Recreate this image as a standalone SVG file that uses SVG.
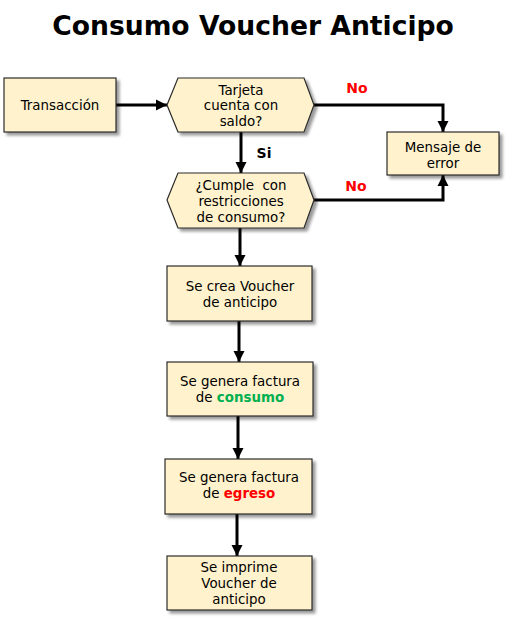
<svg xmlns="http://www.w3.org/2000/svg" width="509" height="624" viewBox="0 0 509 624">
<style>
.box{fill:#FFF2CC;stroke:#2b2b2b;stroke-width:1.2}
.t{font-family:"DejaVu Sans",Verdana,sans-serif;font-size:13.4px;fill:#000;text-anchor:middle}
.c{fill:none;stroke:#000;stroke-width:3}
.lbl{font-family:"DejaVu Sans",Verdana,sans-serif;font-size:14px;font-weight:bold;text-anchor:middle}
</style>
<defs>
<filter id="sh" x="-10%" y="-10%" width="130%" height="140%">
<feGaussianBlur in="SourceAlpha" stdDeviation="1.5"/>
<feOffset dx="3" dy="3" result="b"/>
<feComponentTransfer><feFuncA type="linear" slope="0.4"/></feComponentTransfer>
<feMerge><feMergeNode/><feMergeNode in="SourceGraphic"/></feMerge>
</filter>
<marker id="ah" viewBox="0 0 10 10" refX="10" refY="5" markerWidth="3.8" markerHeight="3.8" orient="auto" markerUnits="strokeWidth">
<path d="M0,0 L10,5 L0,10 Z" fill="#000"/>
</marker>
</defs>
<rect width="509" height="624" fill="#fff"/>
<text x="253" y="35" font-family="DejaVu Sans,Verdana,sans-serif" font-size="26.6" font-weight="bold" text-anchor="middle">Consumo Voucher Anticipo</text>

<g id="connectors">
<line class="c" x1="116" y1="105" x2="167" y2="105" marker-end="url(#ah)"/>
<line class="c" x1="241" y1="132" x2="241" y2="173" marker-end="url(#ah)"/>
<polyline class="c" points="314,105 443,105 443,132" marker-end="url(#ah)"/>
<polyline class="c" points="314,200 443,200 443,175" marker-end="url(#ah)"/>
<line class="c" x1="240" y1="228" x2="240" y2="266" marker-end="url(#ah)"/>
<line class="c" x1="239" y1="321" x2="239" y2="362" marker-end="url(#ah)"/>
<line class="c" x1="238" y1="416" x2="238" y2="459" marker-end="url(#ah)"/>
<line class="c" x1="237" y1="514" x2="237" y2="556" marker-end="url(#ah)"/>
<text class="lbl" x="264" y="158" fill="#000">Si</text>
<text class="lbl" x="357" y="93" fill="#FF0000">No</text>
<text class="lbl" x="356" y="191" fill="#FF0000">No</text>
</g>

<g id="transaccion">
<rect class="box" x="4" y="78" width="112" height="54" filter="url(#sh)"/>
<text class="t" x="60" y="110">Transacción</text>
</g>

<g id="tarjeta">
<polygon class="box" points="167,105 178,78 304,78 314,105 304,132 178,132" filter="url(#sh)"/>
<text class="t" x="241" y="95">Tarjeta</text>
<text class="t" x="241" y="110">cuenta con</text>
<text class="t" x="241" y="126">saldo?</text>
</g>

<g id="cumple">
<polygon class="box" points="167,200 178,173 304,173 314,200 304,228 178,228" filter="url(#sh)"/>
<text class="t" x="241" y="190" xml:space="preserve">¿Cumple  con</text>
<text class="t" x="241" y="206">restricciones</text>
<text class="t" x="241" y="222">de consumo?</text>
</g>

<g id="mensaje">
<rect class="box" x="387" y="132" width="112" height="43" filter="url(#sh)"/>
<text class="t" x="443" y="152">Mensaje de</text>
<text class="t" x="443" y="168">error</text>
</g>

<g id="crea">
<rect class="box" x="167" y="266" width="145" height="55" filter="url(#sh)"/>
<text class="t" x="240" y="291">Se crea Voucher</text>
<text class="t" x="240" y="307">de anticipo</text>
</g>

<g id="consumo">
<rect class="box" x="167" y="362" width="146" height="54" filter="url(#sh)"/>
<text class="t" x="240" y="386">Se genera factura</text>
<text class="t" x="240" y="402">de <tspan font-weight="bold" fill="#00B050">consumo</tspan></text>
</g>

<g id="egreso">
<rect class="box" x="165" y="459" width="147" height="55" filter="url(#sh)"/>
<text class="t" x="239" y="482">Se genera factura</text>
<text class="t" x="239" y="498">de <tspan font-weight="bold" fill="#FF0000">egreso</tspan></text>
</g>

<g id="imprime">
<rect class="box" x="167" y="556" width="145" height="54" filter="url(#sh)"/>
<text class="t" x="239" y="572">Se imprime</text>
<text class="t" x="239" y="588">Voucher de</text>
<text class="t" x="239" y="604">anticipo</text>
</g>
</svg>
